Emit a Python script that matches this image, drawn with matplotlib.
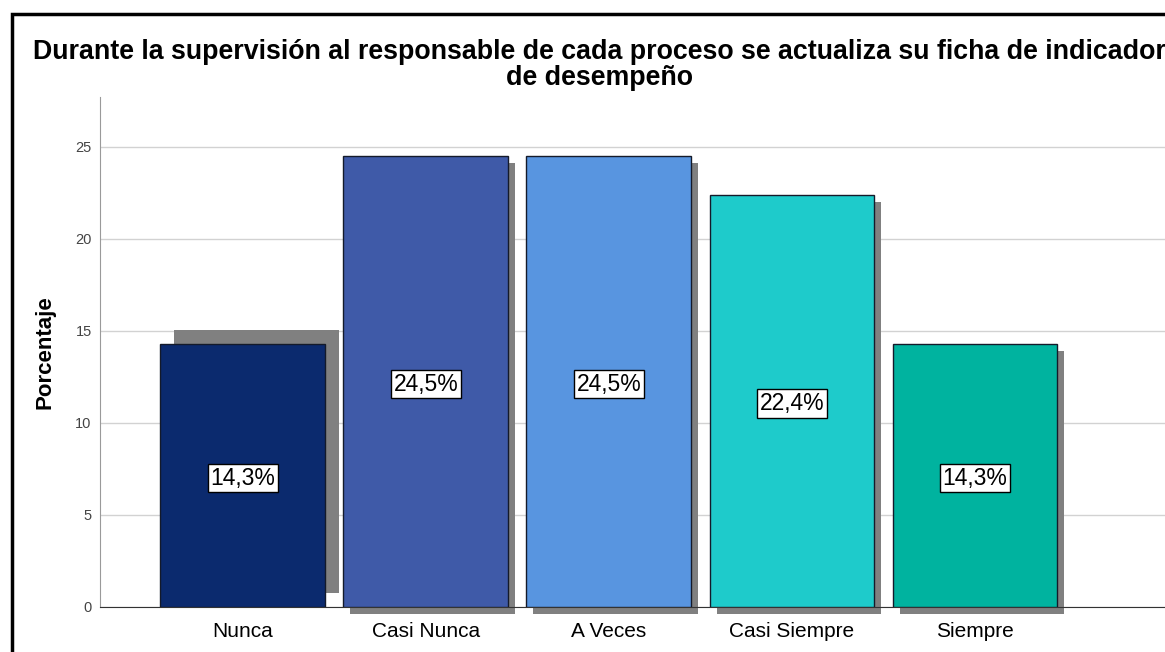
import matplotlib
matplotlib.use("Agg")
import matplotlib.pyplot as plt
import matplotlib.transforms as mtransforms
from matplotlib.patches import Rectangle
import numpy as np

categorias = ["Nunca", "Casi Nunca", "A Veces", "Casi Siempre", "Siempre"]
porcentajes = [14.3, 24.5, 24.5, 22.4, 14.3]
etiquetas = ["14,3%", "24,5%", "24,5%", "22,4%", "14,3%"]
colores = ["#0b2a6e", "#3f5aa8", "#5895e0", "#1ecbcb", "#00b39f"]
titulo = ("Durante la supervisión al responsable de cada proceso se actualiza su ficha de indicador\n"
          "de desempeño")

plt.rcParams['font.family'] = ['Liberation Sans', 'DejaVu Sans']

W, H = 1165, 652
fig = plt.figure(figsize=(W / 100, H / 100), dpi=100)
fig.patch.set_facecolor("white")

# ejes en coordenadas de pixel
ax = fig.add_axes([100 / W, (H - 607) / H, (W - 100) / W, (607 - 97) / H])
x = np.arange(len(categorias))

# sombras grises (desplazadas en pixeles)
desplaz = [(14, 14), (7, -7), (7, -7), (7, -7), (7, -7)]
for i in range(len(categorias)):
    tr = mtransforms.offset_copy(ax.transData, fig=fig, x=desplaz[i][0], y=desplaz[i][1], units='dots')
    ax.bar(x[i], porcentajes[i], width=0.9, color="#808080", transform=tr,
           zorder=2, clip_on=False)

barras = ax.bar(x, porcentajes, width=0.9, color=colores, edgecolor="#141a2a",
                linewidth=1, zorder=3)

for i, b in enumerate(barras):
    ax.text(x[i], porcentajes[i] / 2 - 0.15, etiquetas[i], ha="center", va="center",
            fontsize=16.5, color="black", zorder=5,
            bbox=dict(boxstyle="square,pad=0.12", fc="white", ec="black", lw=1))

ax.set_xlim(-0.78, 4 + (W - 975) / 183)
ax.set_ylim(0, 27.7)
ax.set_yticks([0, 5, 10, 15, 20, 25])
ax.yaxis.grid(True, color="#d2d2d2", linewidth=1)
ax.set_axisbelow(True)
ax.tick_params(axis="y", length=0, labelsize=10.5, labelcolor="#444444", pad=6)
ax.tick_params(axis="x", length=0, labelsize=15, pad=11)
ax.set_xticks(x)
ax.set_xticklabels(categorias)
ax.set_ylabel("Porcentaje", fontsize=16, fontweight="bold", labelpad=14)

for s in ["top", "right"]:
    ax.spines[s].set_visible(False)
ax.spines["left"].set_color("#9a9a9a")
ax.spines["bottom"].set_color("#333333")

fig.text(599 / W, 1 - 39 / H, titulo, ha="center", va="top", fontsize=19.3,
         fontweight="bold", linespacing=1.0)

# marco negro exterior
fig.add_artist(Rectangle((11.5 / W, -0.1), 1.2, 1.1 - 13.5 / H, transform=fig.transFigure,
                         fill=False, ec="black", lw=2.5))

fig.savefig("out.png", dpi=100)
